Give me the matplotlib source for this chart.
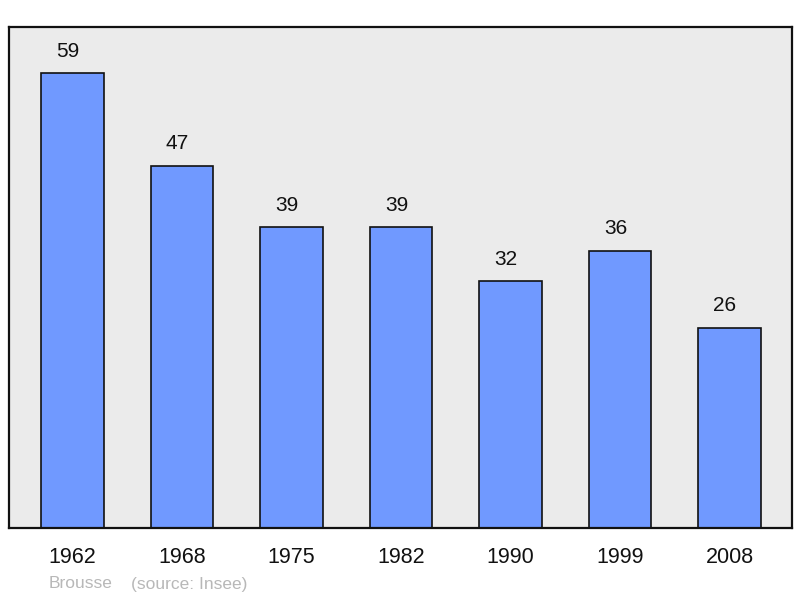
import matplotlib.pyplot as plt
import numpy as np

plt.rcParams['font.family'] = ['Liberation Sans', 'DejaVu Sans']

years = ["1962", "1968", "1975", "1982", "1990", "1999", "2008"]
population = [59, 47, 39, 39, 32, 36, 26]

fig = plt.figure(figsize=(8, 5.98), dpi=100)
ax = fig.add_axes([9 / 800, 70 / 598, 783 / 800, 501 / 598])
ax.set_facecolor("#ebebeb")

x = np.arange(len(years))
ax.bar(x, population, width=0.575, color="#7099ff", edgecolor="#111111",
       linewidth=1.2, zorder=2)

# value labels sit a little left of the bar centre in the original
for xi, v in zip(x, population):
    ax.annotate(str(v), (xi, v), xytext=(-4.5, 22), textcoords="offset pixels",
                ha="center", va="center", fontsize=15, color="#111111")

ax.set_xlim(-0.58, 6.571)
ax.set_ylim(0, 65)
ax.set_yticks([])
ax.set_xticks(x)
ax.set_xticklabels(years, fontsize=15.5, color="#111111")
ax.tick_params(axis="x", length=0, pad=14)

for s in ax.spines.values():
    s.set_linewidth(1.6)
    s.set_color("#111111")

fig.text(49 / 800, 1 - 584 / 598, "Brousse", fontsize=12.5, color="#b8b8b8",
         va="center", ha="left")
fig.text(131 / 800, 1 - 584 / 598, "(source: Insee)", fontsize=12.5,
         color="#b8b8b8", va="center", ha="left")

fig.savefig("out.png", dpi=100)
